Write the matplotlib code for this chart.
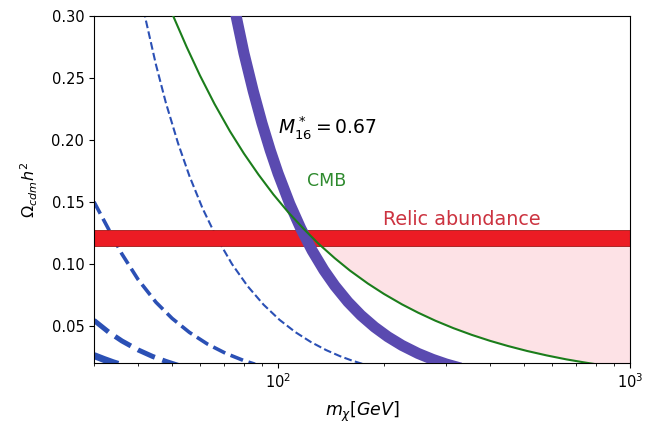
import matplotlib

matplotlib.use("Agg")
import matplotlib.pyplot as plt
import numpy as np

# M*_16 = 0.67 curve (thick purple)
m_purple = [70, 76, 80, 85, 90, 95, 100, 108, 116, 125, 135, 145, 158, 172,
            188, 205, 225, 250, 275, 300, 330]
om_purple = [0.353, 0.300, 0.270, 0.2395, 0.2136, 0.1917, 0.173, 0.1483, 0.1286,
             0.1107, 0.0949, 0.0823, 0.0693, 0.0585, 0.049, 0.0412, 0.0342,
             0.0277, 0.0229, 0.0192, 0.0159]

# CMB bound (green)
m_cmb = [46, 50, 55, 60, 66, 73, 80, 88, 97, 107, 118, 130, 145, 160, 180, 200,
         225, 250, 280, 315, 355, 400, 450, 510, 580, 660, 740, 800, 900, 1000]
om_cmb = [0.33, 0.302, 0.275, 0.252, 0.229, 0.207, 0.189, 0.172, 0.156, 0.1415,
          0.1285, 0.1165, 0.1045, 0.0946, 0.0841, 0.0757, 0.0673, 0.0606, 0.0541,
          0.0481, 0.0427, 0.0379, 0.0337, 0.0297, 0.0261, 0.0229, 0.0205, 0.019,
          0.0168, 0.0152]

# blue dashed curves, thinnest to thickest
m_dash0 = [40, 42, 45, 48, 52, 56, 61, 67, 74, 82, 91, 101, 112, 124, 137, 150, 162, 175]
om_dash0 = [0.327, 0.298, 0.2606, 0.230, 0.1972, 0.1709, 0.1449, 0.1209, 0.0998,
            0.0819, 0.0670, 0.0548, 0.0449, 0.0369, 0.0304, 0.0255, 0.0220, 0.0190]
m_dash1 = [30, 33, 36, 40, 45, 50, 56, 63, 71, 80, 86]
om_dash1 = [0.150, 0.128, 0.108, 0.0875, 0.069, 0.056, 0.0447, 0.0353, 0.0278,
            0.0219, 0.019]
m_dash2 = [30, 33, 36, 40, 44, 48, 52]
om_dash2 = [0.0544, 0.045, 0.0378, 0.0306, 0.0253, 0.0213, 0.0181]
m_dash3 = [30, 32, 34, 36]
om_dash3 = [0.026, 0.0229, 0.0202, 0.018]
dash_widths = [1.5, 2.6, 3.6, 5.0]

# relic abundance band
relic_low, relic_high = 0.1145, 0.1275
x_range = [30, 1000]

PURPLE = "#5a4ab0"
GREEN = "#1b7d1b"
BLUE = "#2b50b5"
RED = "#ec1c24"
PINK = "#fde2e6"

fig = plt.figure(figsize=(6.56, 4.25), dpi=100)
ax = fig.add_axes([0.1433, 0.1459, 0.8171, 0.8165])

cmb_m = np.array(m_cmb)
cmb_om = np.array(om_cmb)
ax.fill_between(cmb_m, cmb_om, relic_low, where=cmb_om <= relic_low,
                interpolate=True, facecolor=PINK, edgecolor="none", zorder=0)

dashes = [(m_dash0, om_dash0), (m_dash1, om_dash1), (m_dash2, om_dash2), (m_dash3, om_dash3)]
for (mm, oo), lw in zip(dashes, dash_widths):
    ax.plot(mm, oo, "--", color=BLUE, lw=lw, zorder=1)

ax.fill_between(x_range, relic_low, relic_high, facecolor=RED,
                edgecolor="#a01818", linewidth=0.6, zorder=2)

ax.plot(m_purple, om_purple, color=PURPLE, lw=8, solid_capstyle="butt", zorder=3)
ax.plot(m_cmb, om_cmb, color=GREEN, lw=1.5, zorder=4)

ax.text(100, 0.21, r"$M^*_{16} = 0.67$", fontsize=13.5, va="center", ha="left")
ax.text(121, 0.1665, "CMB", fontsize=12.5, color="#2e8a2e", va="center", ha="left")
ax.text(199, 0.1355, "Relic abundance", fontsize=13.8, color="#cc3340",
        va="center", ha="left")

ax.set_xscale("log")
ax.set_xlim(30, 1000)
ax.set_ylim(0.02, 0.30)
ax.set_yticks([0.05, 0.10, 0.15, 0.20, 0.25, 0.30])
ax.tick_params(labelsize=10.5)
ax.set_xlabel(r"$m_{\chi}[GeV]$", fontsize=12.5, labelpad=6)
ax.set_ylabel(r"$\Omega_{cdm}h^2$", fontsize=11.5, labelpad=8)

fig.savefig("out.png", dpi=100)
